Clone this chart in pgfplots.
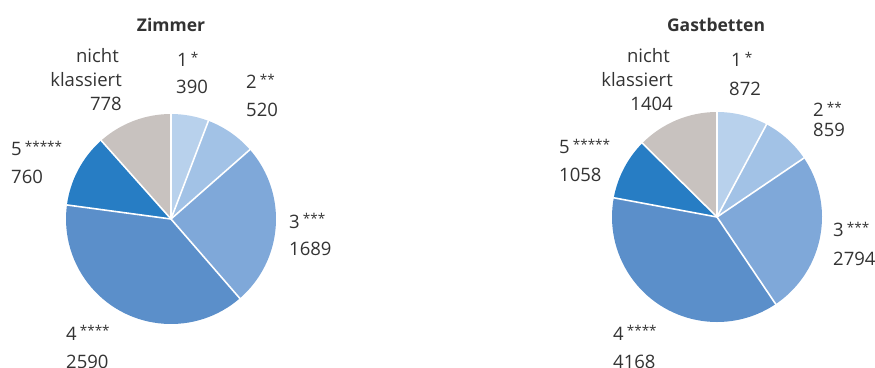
\documentclass[border=0pt]{standalone}
\usepackage{pgfplots}
\usepackage{pgfplotstable}
\pgfplotsset{compat=1.18}
\usepackage{fontspec}
\setmainfont{Open Sans}
\definecolor{c1}{HTML}{B8D1EC}
\definecolor{c2}{HTML}{A2C2E6}
\definecolor{c3}{HTML}{7FA8D9}
\definecolor{c4}{HTML}{5B8FCA}
\definecolor{c5}{HTML}{277DC4}
\definecolor{c6}{HTML}{C8C2BF}
\definecolor{txt}{HTML}{333333}

\pgfplotstableread{
label value col
1 390 c1
2 520 c2
3 1689 c3
4 2590 c4
5 760 c5
nk 778 c6
}\zimmer
\pgfplotstableread{
label value col
1 872 c1
2 859 c2
3 2794 c3
4 4168 c4
5 1058 c5
nk 1404 c6
}\gastbetten

% #1 table, #2 cx, #3 cy, #4 radius
\newcommand{\drawpie}[4]{%
  \pgfplotstablegetrowsof{#1}\edef\nrows{\pgfplotsretval}%
  \pgfmathtruncatemacro\lastrow{\nrows-1}%
  \gdef\pietotal{0}%
  \foreach \i in {0,...,\lastrow}{%
    \pgfplotstablegetelem{\i}{value}\of#1%
    \pgfmathsetmacro\t{\pietotal+\pgfplotsretval}%
    \xdef\pietotal{\t}%
  }%
  \gdef\curang{90}%
  \foreach \i in {0,...,\lastrow}{%
    \pgfplotstablegetelem{\i}{value}\of#1\edef\v{\pgfplotsretval}%
    \pgfplotstablegetelem{\i}{col}\of#1\edef\c{\pgfplotsretval}%
    \pgfmathsetmacro\endang{\curang-\v/\pietotal*360}%
    \fill[\c] (axis cs:#2,#3) -- ([shift={(\curang:#4pt)}]axis cs:#2,#3)
      arc[start angle=\curang, end angle=\endang, radius=#4pt] -- cycle;
    \xdef\curang{\endang}%
  }%
  \gdef\curang{90}%
  \foreach \i in {0,...,\lastrow}{%
    \pgfplotstablegetelem{\i}{value}\of#1\edef\v{\pgfplotsretval}%
    \pgfmathsetmacro\endang{\curang-\v/\pietotal*360}%
    \draw[white, line width=1.6pt] (axis cs:#2,#3) -- ([shift={(\curang:#4pt+0.5pt)}]axis cs:#2,#3);
    \xdef\curang{\endang}%
  }%
}
\newcommand{\st}[1]{\,\raisebox{0.45ex}{\fontsize{13.5}{13.5}\selectfont #1}}

\begin{document}
\begin{tikzpicture}
\path[use as bounding box] (0,0) rectangle (875pt,367pt);
\clip (0,0) rectangle (875pt,367pt);
\begin{axis}[
  at={(0,0)}, anchor=south west,
  width=875pt, height=367pt, scale only axis,
  xmin=0, xmax=875, ymin=0, ymax=367,
  hide axis, clip=false,
]
\pgfplotsextra{%
  \drawpie{\zimmer}{171}{148}{105}%
  \drawpie{\gastbetten}{717}{150}{105}%
}
\begin{scope}[every node/.style={inner sep=0pt, text=txt, font=\fontsize{18.5}{18.5}\selectfont}]
% Zimmer
\node[anchor=base, font=\fontsize{17.5}{17.5}\selectfont\bfseries] at (axis cs:171,335) {Zimmer};
\node[anchor=base east] at (axis cs:119,304) {nicht};
\node[anchor=base east] at (axis cs:122,280) {klassiert};
\node[anchor=base east] at (axis cs:122,256) {778};
\node[anchor=base west] at (axis cs:177,300) {1\st{*}};
\node[anchor=base west] at (axis cs:176,273) {390};
\node[anchor=base west] at (axis cs:246,278) {2\st{**}};
\node[anchor=base west] at (axis cs:246,250) {520};
\node[anchor=base west] at (axis cs:289,139) {3\st{***}};
\node[anchor=base west] at (axis cs:289,111) {1689};
\node[anchor=base west] at (axis cs:66,27) {4\st{****}};
\node[anchor=base west] at (axis cs:66,-1) {2590};
\node[anchor=base west] at (axis cs:11,211) {5\st{*****}};
\node[anchor=base west] at (axis cs:11,183) {760};
% Gastbetten
\node[anchor=base, font=\fontsize{17.5}{17.5}\selectfont\bfseries] at (axis cs:716,335) {Gastbetten};
\node[anchor=base east] at (axis cs:670,304) {nicht};
\node[anchor=base east] at (axis cs:673,280) {klassiert};
\node[anchor=base east] at (axis cs:673,256) {1404};
\node[anchor=base west] at (axis cs:731,300) {1\st{*}};
\node[anchor=base west] at (axis cs:729,271) {872};
\node[anchor=base west] at (axis cs:813,250) {2\st{**}};
\node[anchor=base west] at (axis cs:813,230) {859};
\node[anchor=base west] at (axis cs:833,130) {3\st{***}};
\node[anchor=base west] at (axis cs:833,102) {2794};
\node[anchor=base west] at (axis cs:613,27) {4\st{****}};
\node[anchor=base west] at (axis cs:613,-1) {4168};
\node[anchor=base west] at (axis cs:559,213) {5\st{*****}};
\node[anchor=base west] at (axis cs:559,185) {1058};
\end{scope}
\end{axis}
\end{tikzpicture}
\end{document}
